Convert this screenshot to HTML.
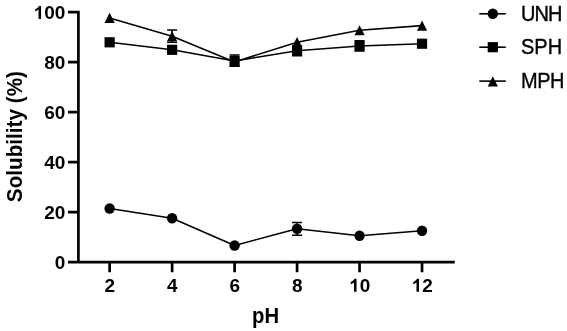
<!DOCTYPE html>
<html><head><meta charset="utf-8"><title>Solubility vs pH</title>
<style>html,body{margin:0;padding:0;background:#fff;width:567px;height:331px;overflow:hidden}svg{display:block;will-change:transform}text{font-family:"Liberation Sans",sans-serif}</style>
</head><body>
<svg width="567" height="331" viewBox="0 0 567 331"><path d="M68 12.20H78.4V262.1M68 262.1H454.8" fill="none" stroke="#000" stroke-width="2.7" stroke-linejoin="miter"/>
<path d="M68 212.04H78.4M68 162.08H78.4M68 112.12H78.4M68 62.16H78.4M109.64 262V272.3M172.12 262V272.3M234.60 262V272.3M297.08 262V272.3M359.56 262V272.3M422.04 262V272.3" fill="none" stroke="#000" stroke-width="2.7"/>
<g font-weight="bold" font-size="19" fill="#000"><text transform="translate(54.73,268.70) scale(1,1.0)">0</text><text transform="translate(44.17,218.74) scale(1,1.0)">2</text><text transform="translate(54.73,218.74) scale(1,1.0)">0</text><text transform="translate(44.17,168.78) scale(1,1.0)">4</text><text transform="translate(54.73,168.78) scale(1,1.0)">0</text><text transform="translate(44.17,118.82) scale(1,1.0)">6</text><text transform="translate(54.73,118.82) scale(1,1.0)">0</text><text transform="translate(44.17,68.86) scale(1,1.0)">8</text><text transform="translate(54.73,68.86) scale(1,1.0)">0</text><path transform="translate(33.60,18.90) scale(0.009277,-0.009277)" d="M804 0H529V1005Q378 868 174 803V1045Q281 1079 407 1175Q533 1270 580 1390H804Z"/><text transform="translate(44.17,18.90) scale(1,1.0)">0</text><text transform="translate(54.73,18.90) scale(1,1.0)">0</text><text transform="translate(104.46,291.70) scale(1,1.0)">2</text><text transform="translate(166.94,291.70) scale(1,1.0)">4</text><text transform="translate(229.42,291.70) scale(1,1.0)">6</text><text transform="translate(291.90,291.70) scale(1,1.0)">8</text><path transform="translate(349.09,291.70) scale(0.009277,-0.009277)" d="M804 0H529V1005Q378 868 174 803V1045Q281 1079 407 1175Q533 1270 580 1390H804Z"/><text transform="translate(359.66,291.70) scale(1,1.0)">0</text><path transform="translate(411.57,291.70) scale(0.009277,-0.009277)" d="M804 0H529V1005Q378 868 174 803V1045Q281 1079 407 1175Q533 1270 580 1390H804Z"/><text transform="translate(422.14,291.70) scale(1,1.0)">2</text></g>
<text transform="translate(265.6,322.9) scale(1,1.07)" text-anchor="middle" font-weight="bold" font-size="20.3">pH</text>
<text transform="translate(21.6,136.6) rotate(-90) scale(1,1.06)" text-anchor="middle" font-weight="bold" font-size="20.7">Solubility (%)</text>
<path d="M172.12 30.10V42.30M167.12 30.10H177.12M167.12 42.30H177.12" stroke="#000" stroke-width="1.5" fill="none"/><path d="M234.60 54.95V66.00M229.60 54.95H239.60M229.60 66.00H239.60" stroke="#000" stroke-width="1.5" fill="none"/><path d="M297.08 222.60V235.20M292.08 222.60H302.08M292.08 235.20H302.08" stroke="#000" stroke-width="1.5" fill="none"/><path d="M297.08 45.70V55.70M292.08 45.70H302.08M292.08 55.70H302.08" stroke="#000" stroke-width="1.5" fill="none"/><path d="M359.56 40.85V51.05M354.56 40.85H364.56M354.56 51.05H364.56" stroke="#000" stroke-width="1.5" fill="none"/>
<polyline fill="none" stroke="#000" stroke-width="1.6" stroke-linejoin="round" points="109.64,208.50 172.12,218.20 234.60,245.50 297.08,228.70 359.56,235.80 422.04,230.70"/>
<polyline fill="none" stroke="#000" stroke-width="1.6" stroke-linejoin="round" points="109.64,42.30 172.12,49.80 234.60,61.00 297.08,50.70 359.56,45.95 422.04,43.70"/>
<polyline fill="none" stroke="#000" stroke-width="1.6" stroke-linejoin="round" points="109.64,17.95 172.12,36.20 234.60,61.90 297.08,42.20 359.56,30.25 422.04,25.65"/>
<g fill="#000"><circle cx="109.64" cy="208.50" r="5.20"/><circle cx="172.12" cy="218.20" r="5.20"/><circle cx="234.60" cy="245.50" r="5.20"/><circle cx="297.08" cy="228.70" r="5.20"/><circle cx="359.56" cy="235.80" r="5.20"/><circle cx="422.04" cy="230.70" r="5.20"/><rect x="104.54" y="37.20" width="10.2" height="10.2"/><rect x="167.02" y="44.70" width="10.2" height="10.2"/><rect x="229.50" y="55.90" width="10.2" height="10.2"/><rect x="291.98" y="45.60" width="10.2" height="10.2"/><rect x="354.46" y="40.85" width="10.2" height="10.2"/><rect x="416.94" y="38.60" width="10.2" height="10.2"/><path d="M109.64 12.85L114.74 23.05L104.54 23.05Z"/><path d="M172.12 31.10L177.22 41.30L167.02 41.30Z"/><path d="M234.60 56.80L239.70 67.00L229.50 67.00Z"/><path d="M297.08 37.10L302.18 47.30L291.98 47.30Z"/><path d="M359.56 25.15L364.66 35.35L354.46 35.35Z"/><path d="M422.04 20.55L427.14 30.75L416.94 30.75Z"/></g>
<path d="M479.3 13.8H505.8" stroke="#000" stroke-width="1.6"/><circle cx="492.80" cy="13.80" r="5.20"/><text transform="translate(520.9,20.50) scale(1,1.08)" letter-spacing="-0.9" font-size="20" stroke="#000" stroke-width="0.35">UNH</text><path d="M479.3 47.2H505.8" stroke="#000" stroke-width="1.6"/><rect x="487.70" y="42.10" width="10.2" height="10.2"/><text transform="translate(520.9,53.90) scale(1,1.08)" letter-spacing="0.1" font-size="20" stroke="#000" stroke-width="0.35">SPH</text><path d="M479.3 81.1H505.8" stroke="#000" stroke-width="1.6"/><path d="M492.80 76.30L497.90 86.50L487.70 86.50Z"/><text transform="translate(520.9,87.80) scale(1,1.08)" letter-spacing="-0.4" font-size="20" stroke="#000" stroke-width="0.35">MPH</text></svg>
</body></html>
